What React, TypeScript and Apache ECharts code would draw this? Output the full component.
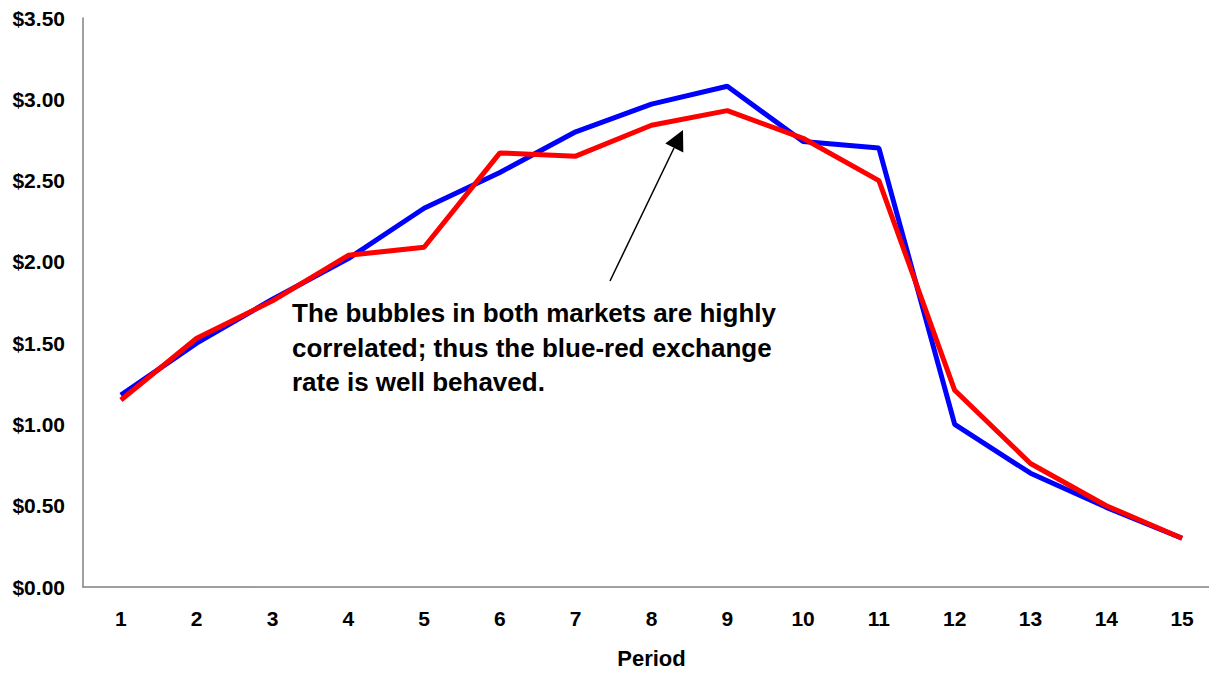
import React, { useEffect, useRef } from "react";
import * as echarts from "echarts";

const periods = ["1", "2", "3", "4", "5", "6", "7", "8", "9", "10", "11", "12", "13", "14", "15"];
const blueValues = [1.18, 1.5, 1.77, 2.02, 2.33, 2.55, 2.8, 2.97, 3.08, 2.74, 2.7, 1.0, 0.7, 0.49, 0.3];
const redValues = [1.15, 1.53, 1.76, 2.04, 2.09, 2.67, 2.65, 2.84, 2.93, 2.76, 2.5, 1.21, 0.76, 0.5, 0.3];
const annotationLines = [
  "The bubbles in both markets are highly",
  "correlated; thus the blue-red exchange",
  "rate is well behaved.",
];

const FONT = "'Liberation Sans', Arial, Helvetica, sans-serif";

export default function App() {
  const ref = useRef<HTMLDivElement>(null);
  useEffect(() => {
    if (!ref.current) return;
    const chart = echarts.init(ref.current, undefined, { renderer: "svg" });
    chart.setOption({
      animation: false,
      backgroundColor: "#ffffff",
      grid: { left: 83, top: 18, width: 1137, height: 569 },
      xAxis: {
        type: "category",
        data: periods,
        boundaryGap: true,
        name: "Period",
        nameLocation: "middle",
        nameGap: 60,
        nameTextStyle: { fontFamily: FONT, fontWeight: "bold", fontSize: 22, color: "#000" },
        axisLine: { show: true, lineStyle: { color: "#808080", width: 1.5 } },
        axisTick: { show: false },
        axisLabel: { margin: 21, fontFamily: FONT, fontWeight: "bold", fontSize: 21, color: "#000" },
        splitLine: { show: false },
      },
      yAxis: {
        type: "value",
        min: 0,
        max: 3.5,
        interval: 0.5,
        axisLine: { show: true, lineStyle: { color: "#808080", width: 1.5 } },
        axisTick: { show: false },
        splitLine: { show: false },
        axisLabel: {
          margin: 18,
          fontFamily: FONT,
          fontWeight: "bold",
          fontSize: 21,
          color: "#000",
          formatter: (v: number) => "$" + v.toFixed(2),
        },
      },
      series: [
        {
          name: "Blue",
          type: "line",
          data: blueValues,
          symbol: "none",
          lineStyle: { color: "#0000ff", width: 5 },
          z: 2,
        },
        {
          name: "Red",
          type: "line",
          data: redValues,
          symbol: "none",
          lineStyle: { color: "#ff0000", width: 5 },
          z: 3,
        },
      ],
      graphic: [
        {
          type: "text",
          left: 292,
          top: 296,
          z: 10,
          style: {
            text: annotationLines.join("\n"),
            font: `bold 26px ${FONT}`,
            fill: "#000",
            lineHeight: 34.5,
          },
        },
        {
          type: "line",
          z: 10,
          shape: { x1: 610, y1: 281, x2: 674, y2: 148 },
          style: { stroke: "#000", lineWidth: 1.5 },
        },
        {
          type: "polygon",
          z: 10,
          shape: { points: [[683, 130], [665.3, 143.6], [683.3, 152.4]] },
          style: { fill: "#000" },
        },
      ],
    });
    return () => chart.dispose();
  }, []);
  return (
    <div style={{ position: "fixed", left: 0, top: 0, width: 1209, height: 675, overflow: "hidden", background: "#fff" }}>
      <div ref={ref} style={{ position: "absolute", left: 0, top: 0, width: 1221, height: 675 }} />
    </div>
  );
}
